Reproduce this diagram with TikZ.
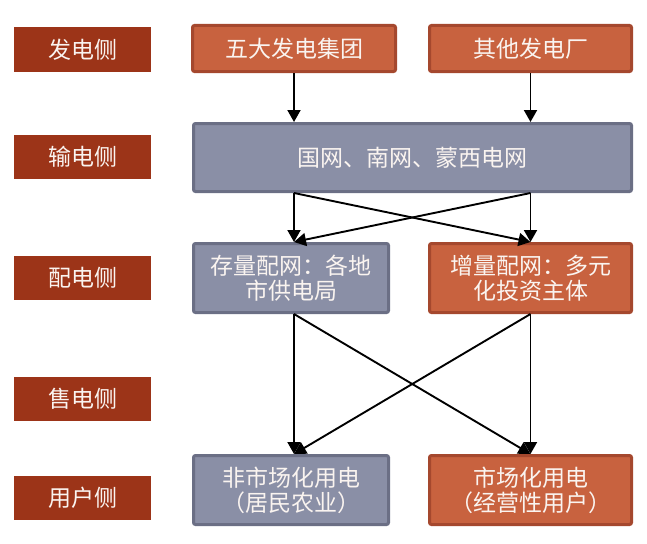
\documentclass[tikz,border=0pt]{standalone}
\usepackage{fontspec}
\newfontfamily\cjk{Noto Sans CJK SC}
\usepackage{tikz}
\usetikzlibrary{arrows.meta}
\usetikzlibrary{positioning}

\definecolor{sidered}{HTML}{9C3418}
\definecolor{boxorange}{HTML}{C8623F}
\definecolor{edgeorange}{HTML}{A5482E}
\definecolor{boxgray}{HTML}{8A8FA6}
\definecolor{edgegray}{HTML}{6B6F85}
\definecolor{lighttext}{HTML}{FAF4F0}

\tikzset{
    side/.style={fill=sidered, text=lighttext, minimum width=137pt, minimum height=44pt,
        inner sep=0pt, font=\cjk\fontsize{23}{25}\selectfont},
    orangebox/.style={fill=boxorange, draw=edgeorange, line width=3pt, rounded corners=2pt,
        text=lighttext, inner sep=0pt, align=center, font=\cjk\fontsize{23}{25}\selectfont},
    graybox/.style={fill=boxgray, draw=edgegray, line width=3pt, rounded corners=2pt,
        text=lighttext, inner sep=0pt, align=center, font=\cjk\fontsize{23}{25}\selectfont},
    flow/.style={-{Triangle[length=12pt,width=13pt]}, line width=1.9pt, black},
}

\begin{document}
\begin{tikzpicture}[x=1pt, y=-1pt]
    \useasboundingbox (0, 0) rectangle (647, 543);

    % left column of stages
    \node[side] (gen)  at (82.5, 49.5) {发电侧};
    \node[side] (trans) at (82.5, 157) {输电侧};
    \node[side] (dist) at (82.5, 277.5) {配电侧};
    \node[side] (sell) at (82.5, 399) {售电侧};
    \node[side] (user) at (82.5, 498) {用户侧};

    % boxes
    \node[orangebox, minimum width=203pt, minimum height=46pt] (five) at (294, 48.5) {五大发电集团};
    \node[orangebox, minimum width=202pt, minimum height=46pt] (other) at (530.5, 48.5) {其他发电厂};
    \node[graybox, minimum width=438pt, minimum height=68pt] (grid) at (412.5, 157.5) {国网、南网、蒙西电网};
    \node[graybox, minimum width=195pt, minimum height=69pt] (stock) at (291, 278) {存量配网：各地\\市供电局};
    \node[orangebox, minimum width=202pt, minimum height=69pt] (incr) at (530.5, 278) {增量配网：多元\\化投资主体};
    \node[graybox, minimum width=195pt, minimum height=69pt] (nonmkt) at (291, 490) {非市场化用电\\（居民农业）};
    \node[orangebox, minimum width=202pt, minimum height=69pt] (mkt) at (530.5, 490) {市场化用电\\（经营性用户）};

    % connectors
    \draw[flow] (five) -- (five |- grid.north);
    \draw[flow] (other) -- (other |- grid.north);

    \draw[flow] (five |- grid.south) -- (five |- stock.north);
    \draw[flow] (other |- grid.south) -- (other |- incr.north);
    \draw[flow] (five |- grid.south) -- (other |- incr.north);
    \draw[flow] (other |- grid.south) -- (five |- stock.north);

    \draw[flow] (five |- stock.south) -- (five |- nonmkt.north);
    \draw[flow] (other |- incr.south) -- (other |- mkt.north);
    \draw[flow] (five |- stock.south) -- (other |- mkt.north);
    \draw[flow] (other |- incr.south) -- (five |- nonmkt.north);
\end{tikzpicture}
\end{document}
